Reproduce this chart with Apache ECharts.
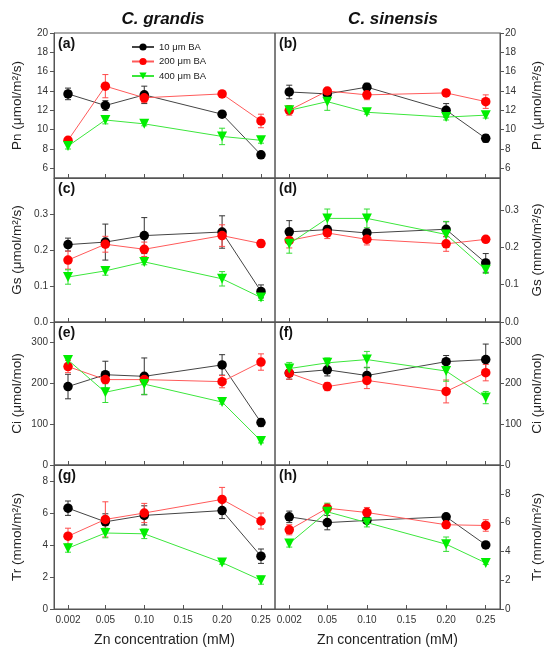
<!DOCTYPE html>
<html>
<head>
<meta charset="utf-8">
<script src="https://cdn.jsdelivr.net/npm/echarts@6/dist/echarts.min.js"></script>
<style>
  html, body { margin: 0; padding: 0; background: #fff; }
  #chart { width: 550px; height: 651px; }
</style>
</head>
<body>
<div id="chart"></div>
<script>
// Zn concentrations (mM) and x tick labels
const zn = [0.002, 0.05, 0.10, 0.20, 0.25];
const xTicks = [0.002, 0.05, 0.10, 0.15, 0.20, 0.25];
const treatments = ['10 μm BA', '200 μm BA', '400 μm BA'];

// means / error bars, ordered 10, 200, 400 μm BA
const pnGrandis = [[13.7, 12.5, 13.6, 11.6, 7.4], [8.9, 14.5, 13.3, 13.7, 10.9], [8.3, 11.0, 10.6, 9.3, 8.9]];
const pnGrandisErr = [[0.6, 0.5, 0.9, 0.2, 0.2], [0.3, 1.2, 0.5, 0.2, 0.7], [0.3, 0.4, 0.2, 0.85, 0.3]];
const pnSinensis = [[13.9, 13.7, 14.4, 12.0, 9.1], [12.0, 14.0, 13.6, 13.8, 12.9], [12.0, 12.9, 11.8, 11.3, 11.5]];
const pnSinensisErr = [[0.7, 0.3, 0.4, 0.7, 0.4], [0.5, 0.3, 0.5, 0.3, 0.7], [0.3, 0.9, 0.2, 0.3, 0.3]];

const gsGrandis = [[0.215, 0.222, 0.240, 0.250, 0.085], [0.172, 0.216, 0.202, 0.240, 0.218], [0.125, 0.142, 0.167, 0.120, 0.068]];
const gsGrandisErr = [[0.018, 0.05, 0.05, 0.045, 0.018], [0.025, 0.022, 0.02, 0.03, 0.01], [0.02, 0.012, 0.008, 0.02, 0.008]];
const gsSinensis = [[0.241, 0.247, 0.238, 0.248, 0.158], [0.218, 0.238, 0.221, 0.209, 0.221], [0.209, 0.277, 0.277, 0.234, 0.140]];
const gsSinensisErr = [[0.03, 0.01, 0.01, 0.02, 0.025], [0.02, 0.015, 0.015, 0.02, 0.005], [0.025, 0.025, 0.025, 0.035, 0.01]];

const ciGrandis = [[192, 221, 217, 245, 104], [241, 209, 209, 204, 252], [257, 178, 198, 154, 59]];
const ciGrandisErr = [[30, 33, 45, 25, 10], [15, 10, 10, 15, 20], [8, 25, 25, 5, 5]];
const ciSinensis = [[225, 233, 219, 253, 258], [225, 192, 207, 180, 226], [236, 250, 258, 230, 165]];
const ciSinensisErr = [[15, 15, 20, 15, 38], [15, 10, 20, 28, 20], [15, 12, 20, 25, 15]];

const trGrandis = [[6.3, 5.45, 5.85, 6.15, 3.3], [4.55, 5.6, 6.0, 6.85, 5.5], [3.8, 4.75, 4.7, 2.9, 1.8]];
const trGrandisErr = [[0.45, 0.5, 0.6, 0.5, 0.45], [0.5, 1.1, 0.6, 0.75, 0.5], [0.25, 0.3, 0.3, 0.1, 0.25]];
const trSinensis = [[6.4, 6.0, 6.15, 6.4, 4.45], [5.5, 7.0, 6.7, 5.85, 5.8], [4.55, 6.75, 6.0, 4.5, 3.2]];
const trSinensisErr = [[0.4, 0.5, 0.2, 0.15, 0.1], [0.35, 0.3, 0.35, 0.25, 0.4], [0.25, 0.6, 0.3, 0.5, 0.1]];

// y tick labels
const pnTicks = [6, 8, 10, 12, 14, 16, 18, 20];
const gsTicks = [0, 0.1, 0.2, 0.3];
const ciTicks = [0, 100, 200, 300];
const trTicks = [0, 2, 4, 6, 8];

const font = 'Liberation Sans, Arial, sans-serif';
const markerColors = ['#000000', '#ff0000', '#00ee00'];
const lineColors = ['#444444', '#ff5a5a', '#3ce63c'];
const errColors = ['#333333', '#ff4a4a', '#33dd33'];

const rows = [
  { top: 33, height: 145 },
  { top: 178, height: 144 },
  { top: 322, height: 143 },
  { top: 465, height: 144 }
];
const cols = [{ left: 54, width: 221 }, { left: 275, width: 225 }];

// panel definitions: row, col, data, axis range, name
const panels = [
  { r: 0, c: 0, d: pnGrandis, e: pnGrandisErr, min: 5, max: 20, ticks: pnTicks, name: 'Pn (μmol/m²/s)', letter: '(a)' },
  { r: 0, c: 1, d: pnSinensis, e: pnSinensisErr, min: 5, max: 20, ticks: pnTicks, name: 'Pn (μmol/m²/s)', letter: '(b)' },
  { r: 1, c: 0, d: gsGrandis, e: gsGrandisErr, min: 0, max: 0.4, ticks: gsTicks, name: 'Gs (μmol/m²/s)', letter: '(c)', dec: 1 },
  { r: 1, c: 1, d: gsSinensis, e: gsSinensisErr, min: 0, max: 0.385, ticks: gsTicks, name: 'Gs (mmol/m²/s)', letter: '(d)', dec: 1 },
  { r: 2, c: 0, d: ciGrandis, e: ciGrandisErr, min: 0, max: 350, ticks: ciTicks, name: 'Ci (μmol/mol)', letter: '(e)' },
  { r: 2, c: 1, d: ciSinensis, e: ciSinensisErr, min: 0, max: 350, ticks: ciTicks, name: 'Ci (μmol/mol)', letter: '(f)' },
  { r: 3, c: 0, d: trGrandis, e: trGrandisErr, min: 0, max: 9, ticks: trTicks, name: 'Tr (mmol/m²/s)', letter: '(g)' },
  { r: 3, c: 1, d: trSinensis, e: trSinensisErr, min: 0, max: 10, ticks: trTicks, name: 'Tr (mmol/m²/s)', letter: '(h)' }
];

function errorBars(idx, means, errs, color) {
  return {
    type: 'custom',
    xAxisIndex: idx,
    yAxisIndex: idx,
    silent: true,
    z: 1,
    encode: { x: 0, y: [1, 2] },
    data: zn.map((x, i) => [x, means[i] - errs[i], means[i] + errs[i]]),
    renderItem: function (params, api) {
      const lo = api.coord([api.value(0), api.value(1)]);
      const hi = api.coord([api.value(0), api.value(2)]);
      const w = 3;
      const style = { stroke: color, lineWidth: 1 };
      return {
        type: 'group',
        children: [
          { type: 'line', shape: { x1: hi[0], y1: hi[1], x2: lo[0], y2: lo[1] }, style: style },
          { type: 'line', shape: { x1: hi[0] - w, y1: hi[1], x2: hi[0] + w, y2: hi[1] }, style: style },
          { type: 'line', shape: { x1: lo[0] - w, y1: lo[1], x2: lo[0] + w, y2: lo[1] }, style: style }
        ]
      };
    }
  };
}

const grids = [], xAxes = [], yAxes = [], series = [], graphics = [];

panels.forEach((p, idx) => {
  const bottom = p.r === 3;
  const right = p.c === 1;
  grids.push({
    left: cols[p.c].left, width: cols[p.c].width,
    top: rows[p.r].top, height: rows[p.r].height,
    show: true, borderColor: '#555', borderWidth: 1, backgroundColor: 'transparent'
  });
  xAxes.push({
    type: 'value', gridIndex: idx, min: -0.016, max: 0.268,
    splitLine: { show: false },
    axisLine: { onZero: false, lineStyle: { color: '#555' } },
    axisTick: { inside: true, length: 4, customValues: xTicks, lineStyle: { color: '#555' } },
    axisLabel: {
      show: bottom, customValues: xTicks, margin: 6,
      fontFamily: font, fontSize: 10, color: '#333',
      formatter: v => (Math.abs(v - 0.002) < 1e-9 ? '0.002' : v.toFixed(2))
    },
    name: bottom ? 'Zn concentration (mM)' : '',
    nameLocation: 'middle', nameGap: 24,
    nameTextStyle: { fontFamily: font, fontSize: 14, color: '#222' }
  });
  yAxes.push({
    type: 'value', gridIndex: idx, min: p.min, max: p.max,
    position: right ? 'right' : 'left',
    splitLine: { show: false },
    axisLine: { show: true, onZero: false, lineStyle: { color: '#555' } },
    axisTick: { show: true, length: 4, customValues: p.ticks, lineStyle: { color: '#555' } },
    axisLabel: {
      customValues: p.ticks, margin: right ? 5 : 6,
      fontFamily: font, fontSize: 10, color: '#333',
      formatter: v => (p.dec ? v.toFixed(p.dec) : String(v))
    },
    name: p.name, nameLocation: 'middle', nameRotate: 90,
    nameGap: right ? 30 : 30,
    nameTextStyle: { fontFamily: font, fontSize: 13.5, color: '#222' }
  });
  p.d.forEach((vals, k) => {
    series.push(errorBars(idx, vals, p.e[k], errColors[k]));
  });
  p.d.forEach((vals, k) => {
    series.push({
      type: 'line', name: treatments[k],
      xAxisIndex: idx, yAxisIndex: idx,
      data: zn.map((x, i) => [x, vals[i]]),
      symbol: k === 2 ? 'triangle' : 'circle',
      symbolRotate: k === 2 ? 180 : 0,
      symbolSize: k === 2 ? 10 : 9.5,
      itemStyle: { color: markerColors[k], opacity: 1 },
      lineStyle: { color: lineColors[k], width: 1 },
      z: 3 + k,
      animation: false
    });
  });
  graphics.push({
    type: 'text',
    left: cols[p.c].left + 4, top: rows[p.r].top + 4,
    style: { text: p.letter, font: 'bold 14px ' + font, fill: '#111' }
  });
});

const chart = echarts.init(document.getElementById('chart'));
chart.setOption({
  animation: false,
  title: [
    { text: 'C. grandis', left: 158, top: 6, textAlign: 'center',
      textStyle: { fontFamily: font, fontSize: 17, fontWeight: 'bold', fontStyle: 'italic', color: '#111' } },
    { text: 'C. sinensis', left: 388, top: 6, textAlign: 'center',
      textStyle: { fontFamily: font, fontSize: 17, fontWeight: 'bold', fontStyle: 'italic', color: '#111' } }
  ],
  legend: {
    data: treatments, orient: 'vertical', left: 126, top: 37,
    itemWidth: 22, itemHeight: 9, itemGap: 4.5,
    textStyle: { fontFamily: font, fontSize: 9.5, color: '#222' }
  },
  grid: grids,
  xAxis: xAxes,
  yAxis: yAxes,
  series: series,
  graphic: graphics
});
</script>
</body>
</html>
